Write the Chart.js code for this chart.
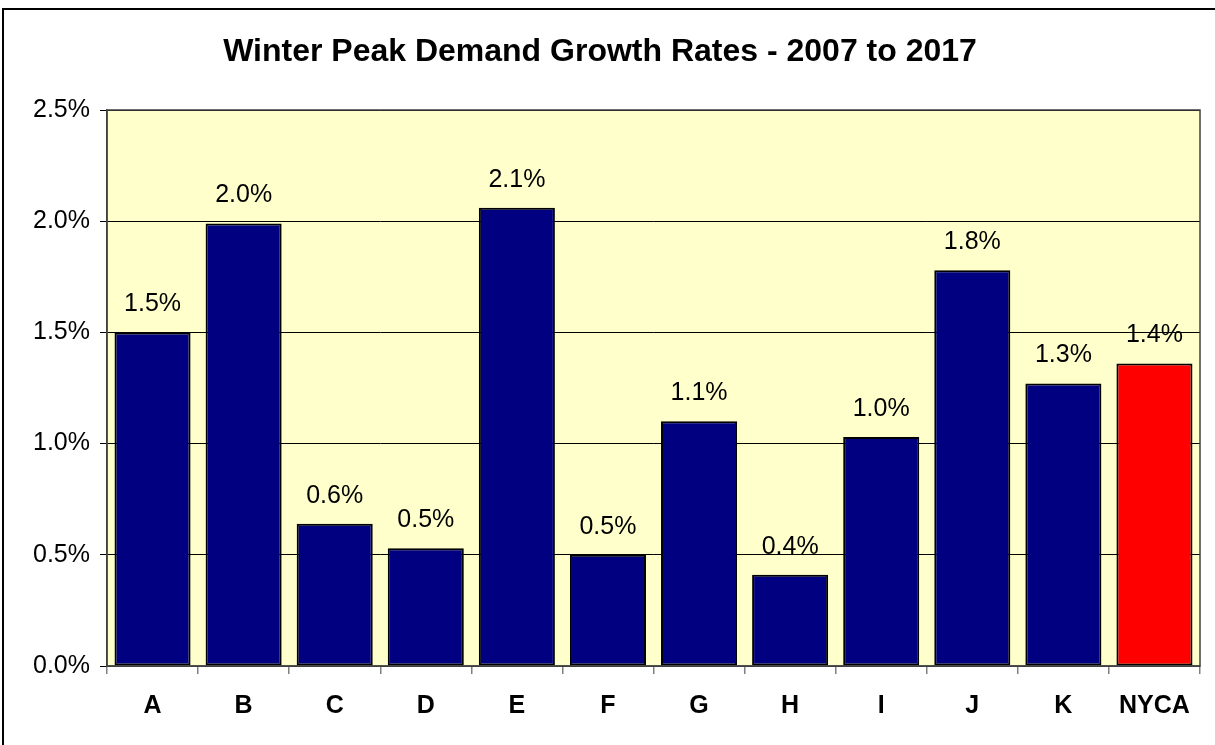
<!DOCTYPE html>
<html>
<head>
<meta charset="utf-8">
<script src="https://cdn.jsdelivr.net/npm/chart.js@4.4.1/dist/chart.umd.min.js"></script>
<style>
  html, body { margin: 0; padding: 0; background: #ffffff; }
  #wrap { width: 1215px; height: 745px; position: relative; }
</style>
</head>
<body>
<div id="wrap"><canvas id="c"></canvas></div>
<script>
const titleText = 'Winter Peak Demand Growth Rates - 2007 to 2017';
const categories = ['A', 'B', 'C', 'D', 'E', 'F', 'G', 'H', 'I', 'J', 'K', 'NYCA'];
const growthRates = [1.50, 1.99, 0.64, 0.53, 2.06, 0.50, 1.10, 0.41, 1.03, 1.78, 1.27, 1.36];
const barColors = ['#000080', '#000080', '#000080', '#000080', '#000080', '#000080',
                   '#000080', '#000080', '#000080', '#000080', '#000080', '#FF0000'];
const yMin = 0, yMax = 2.5, yStep = 0.5;

const FONT = '"Liberation Sans", Arial, sans-serif';

const frame = {
  id: 'frame',
  beforeDraw(chart) {
    const { ctx, chartArea: a } = chart;
    ctx.save();
    ctx.fillStyle = '#FFFFCC';
    ctx.fillRect(a.left, a.top, a.right - a.left, a.bottom - a.top);
    ctx.restore();
  },
  afterDraw(chart) {
    const { ctx, chartArea: a } = chart;
    ctx.save();
    ctx.strokeStyle = '#404040';
    ctx.lineWidth = 1.5;
    ctx.strokeRect(a.left, a.top, a.right - a.left, a.bottom - a.top);
    ctx.strokeStyle = '#000000';
    ctx.lineWidth = 2;
    ctx.strokeRect(3, 9, 1300, 900);
    ctx.restore();
  }
};

const valueLabels = {
  id: 'valueLabels',
  afterDatasetsDraw(chart) {
    const { ctx } = chart;
    const meta = chart.getDatasetMeta(0);
    ctx.save();
    ctx.font = '25px ' + FONT;
    ctx.fillStyle = '#000000';
    ctx.textAlign = 'center';
    ctx.textBaseline = 'middle';
    meta.data.forEach((bar, i) => {
      const v = chart.data.datasets[0].data[i];
      ctx.fillText(v.toFixed(1) + '%', bar.x, bar.y - 28);
    });
    ctx.restore();
  }
};

new Chart(document.getElementById('c'), {
  type: 'bar',
  data: {
    labels: categories,
    datasets: [{
      data: growthRates,
      backgroundColor: barColors,
      borderColor: '#000000',
      borderWidth: 2,
      borderSkipped: false,
      barPercentage: 0.835,
      categoryPercentage: 1.0
    }]
  },
  options: {
    responsive: true,
    maintainAspectRatio: false,
    animation: false,
    devicePixelRatio: 1,
    layout: { padding: { left: 0, right: 15, top: 0, bottom: 0 } },
    plugins: {
      legend: { display: false },
      tooltip: { enabled: false },
      title: {
        display: true,
        text: titleText,
        color: '#000000',
        font: { family: FONT, size: 32, weight: 'bold', lineHeight: 1.2 },
        padding: { top: 32.8, bottom: 38.8 }
      }
    },
    scales: {
      x: {
        offset: true,
        afterFit(scale) { scale.height = 79; },
        grid: {
          offset: true,
          drawOnChartArea: false,
          drawTicks: true,
          tickLength: 8,
          color: '#808080',
          lineWidth: 1.5
        },
        border: { display: true, color: '#808080', width: 1.5 },
        ticks: {
          color: '#000000',
          padding: 17,
          font: { family: FONT, size: 25, weight: 'bold' }
        }
      },
      y: {
        min: yMin,
        max: yMax,
        afterFit(scale) { scale.width = 107; },
        grid: {
          color: '#000000',
          lineWidth: 1,
          drawTicks: true,
          tickLength: 7
        },
        border: { display: true, color: '#404040', width: 1.5 },
        ticks: {
          stepSize: yStep,
          color: '#000000',
          padding: 10,
          font: { family: FONT, size: 25 },
          callback: (v) => v.toFixed(1) + '%'
        }
      }
    }
  },
  plugins: [frame, valueLabels]
});
</script>
</body>
</html>
